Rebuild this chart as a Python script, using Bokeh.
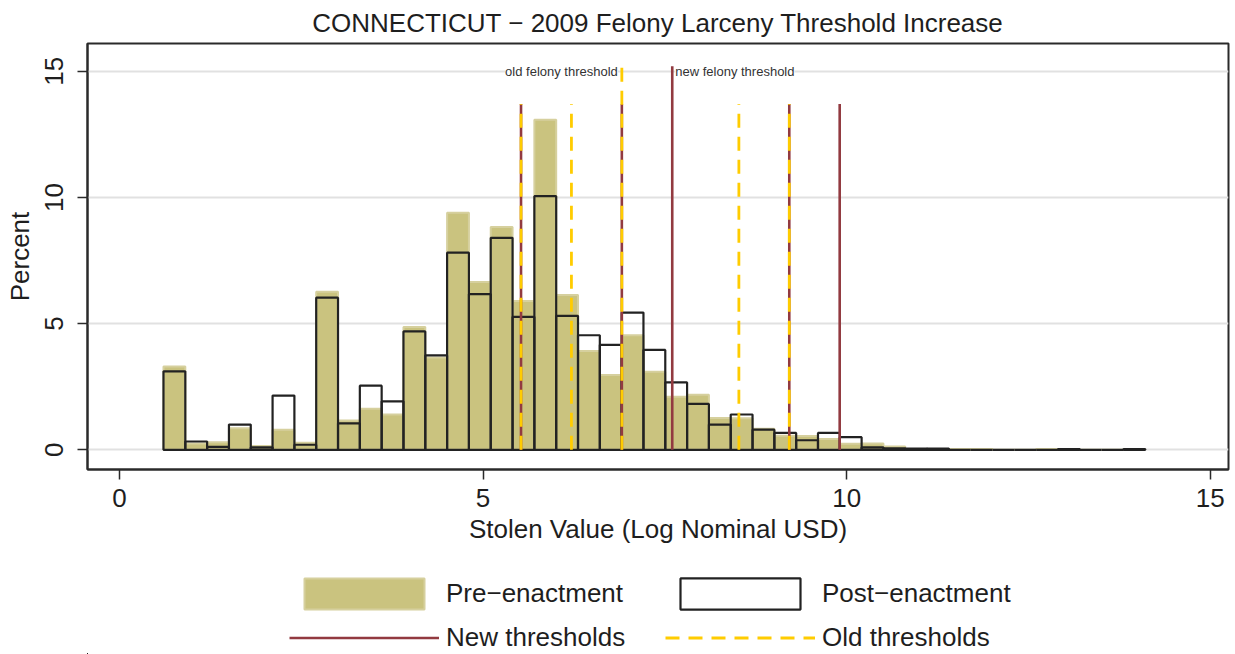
import numpy as np
from bokeh.plotting import figure
from bokeh.layouts import column
from bokeh.models import Range1d, Legend, LegendItem, Label, FixedTicker, ColumnDataSource
from bokeh.embed import file_html
from bokeh.resources import INLINE

# ---------------- data ----------------
bin_start = 0.605          # left edge of first bin (log nominal USD)
bin_width = 0.3            # bin width (log units)
pre_pct = [3.3, 0.25, 0.3, 0.85, 0.15, 0.8, 0.28, 6.26, 1.16, 1.63, 1.4, 4.87, 3.66,
           9.39, 6.65, 8.83, 5.9, 13.08, 6.13, 3.92, 2.96, 4.54, 3.09, 2.1, 2.18, 1.26,
           1.25, 0.83, 0.56, 0.55, 0.43, 0.24, 0.25, 0.13, 0.03, 0.02, 0.03, 0.03, 0.0,
           0.0, 0.03, 0.0, 0.0, 0.0, 0.0]
post_pct = [3.11, 0.33, 0.12, 1.0, 0.1, 2.15, 0.2, 6.03, 1.05, 2.54, 1.92, 4.69, 3.74,
            7.81, 6.17, 8.4, 5.27, 10.05, 5.31, 4.54, 4.16, 5.44, 3.96, 2.67, 1.82, 1.0,
            1.4, 0.8, 0.67, 0.38, 0.67, 0.5, 0.1, 0.06, 0.05, 0.05, 0.0, 0.0, 0.0, 0.0,
            0.0, 0.03, 0.0, 0.0, 0.03]
old_thresholds = [250, 500, 1000, 5000, 10000]      # USD
new_thresholds = [250, 1000, 2000, 10000, 20000]    # USD
old_felony = 1000
new_felony = 2000
x_ticks = [0, 5, 10, 15]
y_ticks = [0, 5, 10, 15]
title_text = "CONNECTICUT \u2212 2009 Felony Larceny Threshold Increase"
x_label = "Stolen Value (Log Nominal USD)"
y_label = "Percent"
legend_labels = ["Pre\u2212enactment", "Post\u2212enactment", "New thresholds", "Old thresholds"]

# ---------------- styles ----------------
FONT = "Liberation Sans"
TXT = "#1e1e1e"
KHAKI = "#CAC37F"
KHAKI_EDGE = "#D6D09E"
POST_LINE = "#222222"
RED = "#923A40"
GOLD = "#FFCC00"
LINE_TOP_FELONY = 15.2
LINE_TOP = 13.7
PRE_STYLE = dict(fill_color=KHAKI, line_color=KHAKI_EDGE, line_width=2)
POST_STYLE = dict(fill_alpha=0, line_color=POST_LINE, line_width=2.2)
NEW_STYLE = dict(line_color=RED, line_width=2.6)
OLD_STYLE = dict(line_color=GOLD, line_width=2.8, line_dash="14 9")

n = len(pre_pct)
centers = [bin_start + bin_width * (i + 0.5) for i in range(n)]
bars = ColumnDataSource(dict(x=centers, pre=pre_pct, post=post_pct))

def seg_source(ths, felony):
    xs = [float(np.log(t)) for t in ths]
    tops = [LINE_TOP_FELONY if t == felony else LINE_TOP for t in ths]
    return ColumnDataSource(dict(x=xs, y0=[0.0] * len(xs), y1=tops))

new_src = seg_source(new_thresholds, new_felony)
old_src = seg_source(old_thresholds, old_felony)

p = figure(width=1235, height=560, output_backend="svg", toolbar_location=None,
           x_range=Range1d(-0.44, 15.25), y_range=Range1d(-0.78, 16.1),
           min_border_left=87, min_border_right=7, min_border_top=43, min_border_bottom=91,
           background_fill_color="white", border_fill_color="white")

p.title.text = title_text
p.title.align = "center"
p.title.text_font = FONT
p.title.text_font_size = "26px"
p.title.text_font_style = "normal"
p.title.text_color = TXT
p.title.standoff = 11

p.outline_line_color = "#2a2a2a"
p.outline_line_width = 2

p.vbar(x="x", top="pre", bottom=0, width=bin_width, source=bars, **PRE_STYLE)
p.vbar(x="x", top="post", bottom=0, width=bin_width, source=bars, **POST_STYLE)
p.segment(x0="x", x1="x", y0="y0", y1="y1", source=new_src, **NEW_STYLE)
p.segment(x0="x", x1="x", y0="y0", y1="y1", source=old_src, **OLD_STYLE)

p.add_layout(Label(x=float(np.log(old_felony)), y=15, x_offset=-4, text="old felony threshold",
                   text_align="right", text_baseline="middle", text_font=FONT,
                   text_font_size="13px", text_color="#333333",
                   background_fill_color="white"))
p.add_layout(Label(x=float(np.log(new_felony)), y=15, x_offset=3, text="new felony threshold",
                   text_align="left", text_baseline="middle", text_font=FONT,
                   text_font_size="13px", text_color="#333333",
                   background_fill_color="white"))

# axes
for ax in (p.xaxis[0], p.yaxis[0]):
    ax.axis_line_color = "#2a2a2a"
    ax.axis_line_width = 2
    ax.major_tick_line_color = "#2a2a2a"
    ax.major_tick_line_width = 1.5
    ax.major_tick_out = 10
    ax.major_tick_in = 0
    ax.minor_tick_line_color = None
    ax.major_label_text_font = FONT
    ax.major_label_text_font_size = "26px"
    ax.major_label_text_color = TXT
    ax.axis_label_text_font = FONT
    ax.axis_label_text_font_size = "26px"
    ax.axis_label_text_font_style = "normal"
    ax.axis_label_text_color = TXT

p.xaxis.ticker = FixedTicker(ticks=x_ticks)
p.yaxis.ticker = FixedTicker(ticks=y_ticks)
p.xaxis.axis_label = x_label
p.yaxis.axis_label = y_label
p.xaxis.major_label_standoff = 9
p.xaxis.axis_label_standoff = 4
p.yaxis.major_label_standoff = 14
p.yaxis.axis_label_standoff = 8
p.yaxis.major_label_orientation = "vertical"

p.xgrid.visible = False
p.ygrid.ticker = FixedTicker(ticks=y_ticks)
p.ygrid.grid_line_color = "#E1E1E1"
p.ygrid.grid_line_width = 2

# ---------------- legend strip ----------------
# The legend renderers share the chart's sources; this strip's ranges lie far
# outside the data, so only the legend swatches are visible.
lg = figure(width=1235, height=94, output_backend="svg", toolbar_location=None,
            x_axis_location=None, y_axis_location=None,
            x_range=Range1d(100, 101), y_range=Range1d(100, 101),
            min_border=0, min_border_left=0, min_border_right=0,
            min_border_top=0, min_border_bottom=0, outline_line_color=None,
            background_fill_color="white", border_fill_color="white")
lg.grid.visible = False
l_pre = lg.vbar(x="x", top="pre", bottom=0, width=bin_width, source=bars, **PRE_STYLE)
l_post = lg.vbar(x="x", top="post", bottom=0, width=bin_width, source=bars, **POST_STYLE)
l_new = lg.segment(x0="x", x1="x", y0="y0", y1="y1", source=new_src, **NEW_STYLE)
l_old = lg.segment(x0="x", x1="x", y0="y0", y1="y1", source=old_src, **OLD_STYLE)

legend = Legend(items=[
    LegendItem(label=legend_labels[0], renderers=[l_pre], index=0),
    LegendItem(label=legend_labels[1], renderers=[l_post], index=0),
    LegendItem(label=legend_labels[2], renderers=[l_new], index=0),
    LegendItem(label=legend_labels[3], renderers=[l_old], index=0),
], location=(202, -3), orientation="horizontal", ncols=2,
    glyph_width=150, glyph_height=39, label_standoff=7, label_width=214, spacing=5,
    padding=0, margin=0, border_line_alpha=0, background_fill_alpha=0,
    label_text_font=FONT, label_text_font_size="26px", label_text_color=TXT)
lg.add_layout(legend)

layout = column(p, lg, spacing=0)
open("out.html", "w").write(file_html(layout, INLINE))
